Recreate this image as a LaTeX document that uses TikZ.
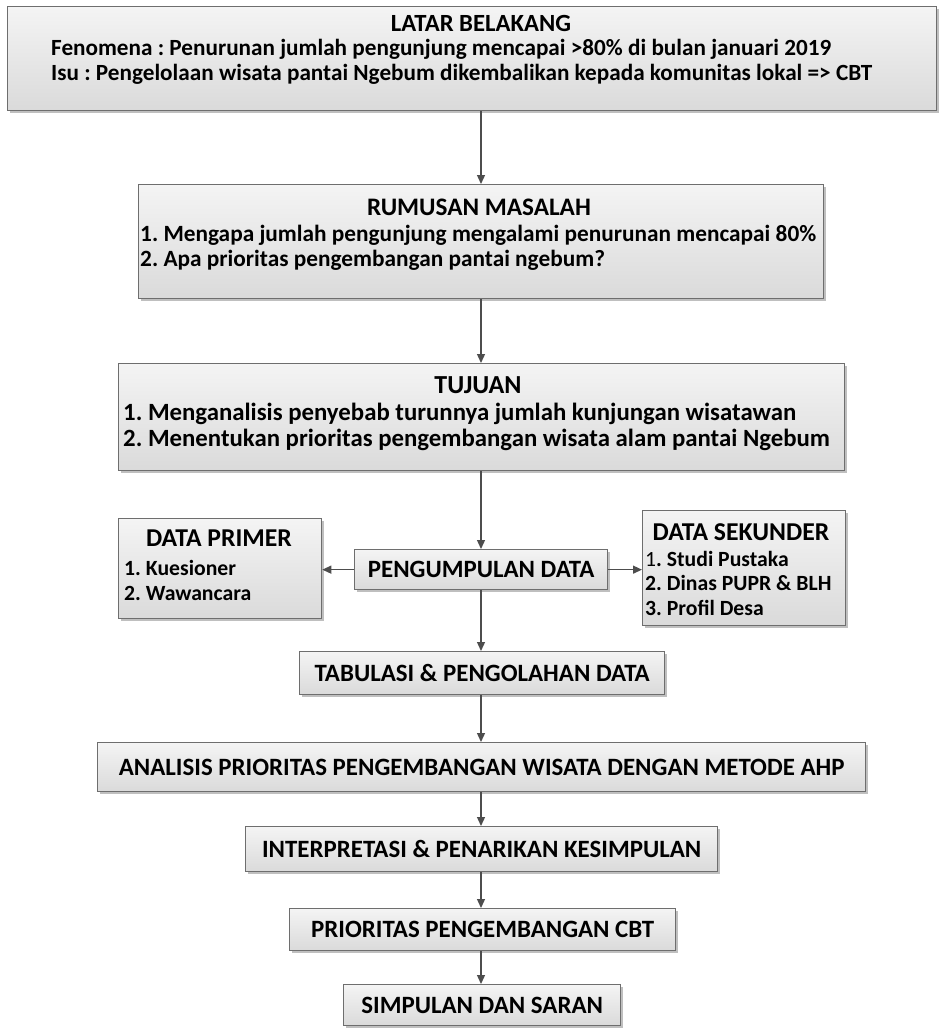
\documentclass[tikz,border=0pt]{standalone}
\usepackage{fontspec}
\setmainfont{Carlito}
\usetikzlibrary{arrows.meta,shadows}
\definecolor{boxborder}{HTML}{6E6E6E}
\definecolor{boxtop}{HTML}{F4F4F4}
\definecolor{boxbot}{HTML}{DADADA}
\definecolor{arrowgray}{HTML}{4D4D4D}
\newcommand\fsz[1]{\fontsize{#1}{#1}\selectfont}
\frenchspacing
\begin{document}
\begin{tikzpicture}[x=1pt,y=-1pt,
  box/.style={draw=boxborder, line width=1.3pt, top color=boxtop, bottom color=boxbot,
    drop shadow={shadow xshift=2pt,shadow yshift=-2pt,fill=black,opacity=0.25},
    inner sep=0pt, anchor=north west},
  arr/.style={draw=arrowgray, line width=1.3pt, -{Triangle[length=9pt,width=8pt]}},
  ctxt/.style={inner sep=0pt, text=black, anchor=base},
  ltxt/.style={inner sep=0pt, text=black, anchor=base west},
  one/.style={ctxt, font=\bfseries\fsz{24.9}},
]
\useasboundingbox (0,0) rectangle (941,1029);
\coordinate (spine) at (481,0);

% boxes
\node[box, minimum width=929pt, minimum height=104pt] (lb) at (7,6) {};
\node[box, minimum width=685pt, minimum height=114pt] (rm) at (138,184) {};
\node[box, minimum width=726pt, minimum height=107pt] (tj) at (118,363) {};
\node[box, minimum width=203pt, minimum height=100pt] (dp) at (118,518) {};
\node[box, minimum width=253pt, minimum height=40pt] (pd) at (354,549) {};
\node[box, minimum width=203pt, minimum height=115pt] (ds) at (642,510) {};
\node[box, minimum width=365pt, minimum height=43pt] (tb) at (299,651) {};
\node[box, minimum width=768pt, minimum height=49pt] (an) at (97,742) {};
\node[box, minimum width=472pt, minimum height=45pt] (ip) at (245,826) {};
\node[box, minimum width=386pt, minimum height=42pt] (pr) at (289,908) {};
\node[box, minimum width=277pt, minimum height=41pt] (sp) at (343,984) {};

% texts (y = baseline)
\node[ctxt, font=\bfseries\fsz{24.7}] (lbt) at (481,31) {LATAR BELAKANG};
\node[ltxt, font=\bfseries\fsz{23.2}] (lb1) at (51,55) {Fenomena : Penurunan jumlah pengunjung mencapai >80\% di bulan januari 2019};
\node[ltxt, font=\bfseries\fsz{23.2}] (lb2) at (51,80.5) {Isu : Pengelolaan wisata pantai Ngebum dikembalikan kepada komunitas lokal => CBT};

\node[ctxt, font=\bfseries\fsz{25.2}] (rmt) at (479,215) {RUMUSAN MASALAH};
\node[ltxt, font=\bfseries\fsz{23.3}] (rm1) at (140,241.5) {1. Mengapa jumlah pengunjung mengalami penurunan mencapai 80\%};
\node[ltxt, font=\bfseries\fsz{23.3}] (rm2) at (140,266.5) {2. Apa prioritas pengembangan pantai ngebum?};

\node[ctxt, font=\bfseries\fsz{26}] (tjt) at (478,393) {TUJUAN};
\node[ltxt, font=\bfseries\fsz{24.8}] (tj1) at (123,420) {1. Menganalisis penyebab turunnya jumlah kunjungan wisatawan};
\node[ltxt, font=\bfseries\fsz{24.8}] (tj2) at (123,446) {2. Menentukan prioritas pengembangan wisata alam pantai Ngebum};

\node[ctxt, font=\bfseries\fsz{25.7}] (dpt) at (219,546) {DATA PRIMER};
\node[ltxt, font=\bfseries\fsz{21.7}] (dp1) at (124,575) {1. Kuesioner};
\node[ltxt, font=\bfseries\fsz{21.7}] (dp2) at (124,600) {2. Wawancara};

\node[one] (pdt) at ([yshift=-8pt]pd.center) {PENGUMPULAN DATA};

\node[ctxt, font=\bfseries\fsz{25.7}] (dst) at (741,540) {DATA SEKUNDER};
\node[ltxt, font=\fsz{21.7}] (ds1) at (645,566) {1\textbf{. Studi Pustaka}};
\node[ltxt, font=\bfseries\fsz{21.7}] (ds2) at (645,590) {2. Dinas PUPR \& BLH};
\node[ltxt, font=\bfseries\fsz{21.7}] (ds3) at (645,615) {3. Profil Desa};

\node[one] (tbt) at ([yshift=-8pt]tb.center) {TABULASI \& PENGOLAHAN DATA};
\node[one] (ant) at ([yshift=-8pt]an.center) {ANALISIS PRIORITAS PENGEMBANGAN WISATA DENGAN METODE AHP};
\node[one] (ipt) at ([yshift=-8pt]ip.center) {INTERPRETASI \& PENARIKAN KESIMPULAN};
\node[one] (prt) at ([yshift=-8pt]pr.center) {PRIORITAS PENGEMBANGAN CBT};
\node[one] (spt) at ([yshift=-8pt]sp.center) {SIMPULAN DAN SARAN};

% connectors
\draw[arr] (lb.south -| spine) -- (rm.north -| spine);
\draw[arr] (rm.south -| spine) -- (tj.north -| spine);
\draw[arr] (tj.south -| spine) -- (pd.north -| spine);
\draw[arr] (pd.west) -- (dp.east |- pd.west);
\draw[arr] (pd.east) -- (ds.west |- pd.east);
\draw[arr] (pd.south -| spine) -- (tb.north -| spine);
\draw[arr] (tb.south -| spine) -- (an.north -| spine);
\draw[arr] (an.south -| spine) -- (ip.north -| spine);
\draw[arr] (ip.south -| spine) -- (pr.north -| spine);
\draw[arr] (pr.south -| spine) -- (sp.north -| spine);
\end{tikzpicture}
\end{document}
